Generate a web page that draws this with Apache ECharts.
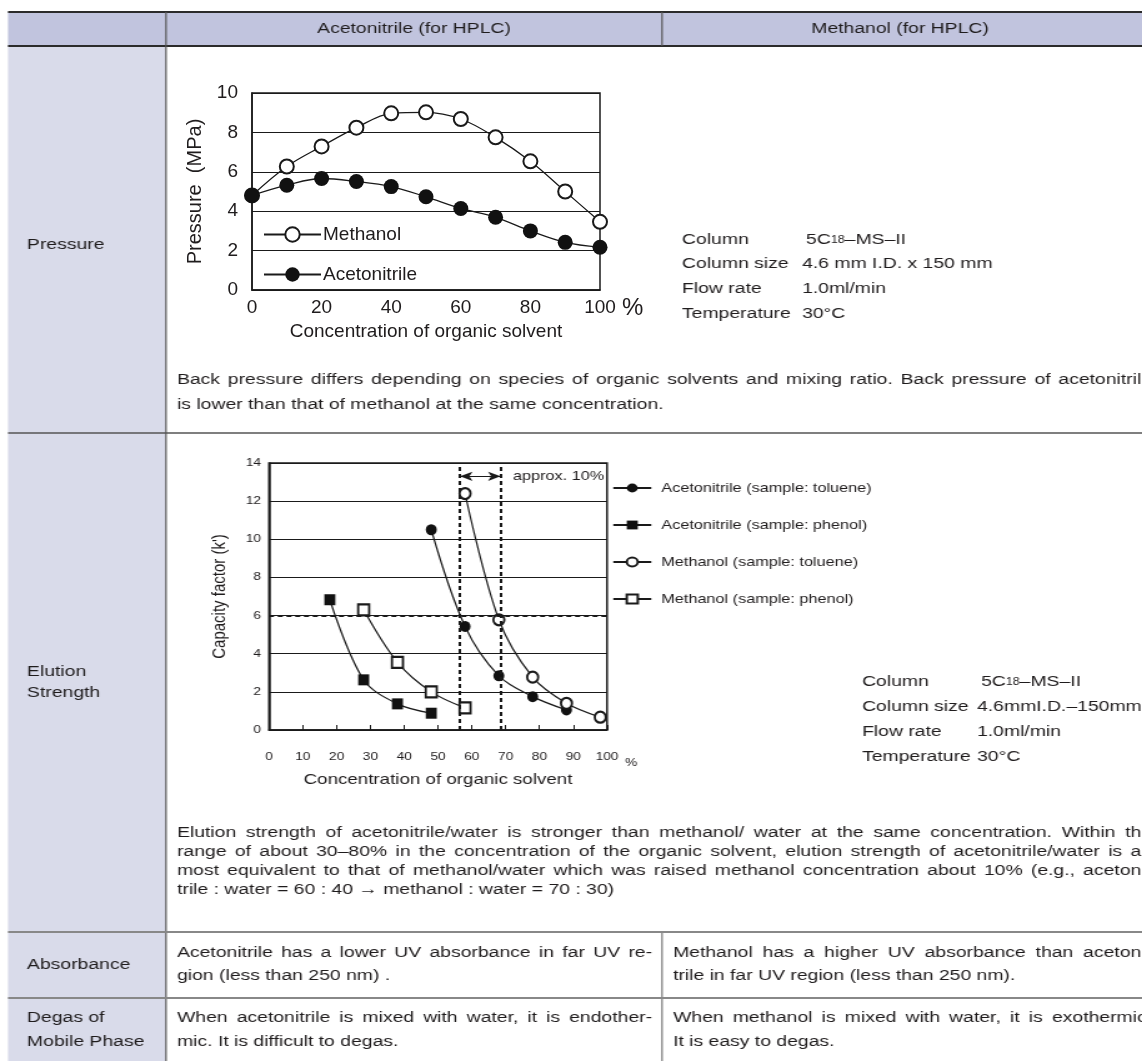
<!DOCTYPE html>
<html><head><meta charset="utf-8">
<script src="https://cdn.jsdelivr.net/npm/echarts@6/dist/echarts.min.js"></script>
<style>
html,body{margin:0;padding:0;background:#fff;overflow:hidden;width:1142px;height:1061px;position:relative}
#c{position:absolute;left:0;top:0;width:914px;height:1061px;transform:scaleX(1.2495);transform-origin:0 0}
#p{position:absolute;left:170px;top:60px;width:500px;height:300px}
</style>
</head><body><div id="c"></div><div id="p"></div>
<script>
// ---------- data ----------
const pressureX = [0, 10, 20, 30, 40, 50, 60, 70, 80, 90, 100];
const methanolP = [4.8, 6.27, 7.29, 8.24, 8.97, 9.02, 8.68, 7.75, 6.53, 5.0, 3.46];
const acetonitrileP = [4.8, 5.32, 5.66, 5.51, 5.25, 4.73, 4.14, 3.69, 3.0, 2.42, 2.17];

const acnTolX = [48, 58, 68, 78, 88];
const acnTolK = [10.5, 5.43, 2.84, 1.75, 1.05];
const acnPheX = [18, 28, 38, 48];
const acnPheK = [6.83, 2.63, 1.37, 0.88];
const meoTolX = [58, 68, 78, 88, 98];
const meoTolK = [12.4, 5.78, 2.77, 1.4, 0.67];
const meoPheX = [28, 38, 48, 58];
const meoPheK = [6.3, 3.55, 2.0, 1.16];

const dashX = [56.5, 68.5];
const dashY = 6;
const arrowY = 13.3;

const names1 = ['Methanol', 'Acetonitrile'];
const names2 = ['Acetonitrile (sample: toluene)', 'Acetonitrile (sample: phenol)',
                'Methanol (sample: toluene)', 'Methanol (sample: phenol)'];

// ---------- layout helpers ----------
const S = 1142 / 914;
const X = v => v / S;
const FF = 'Liberation Sans, Arial, sans-serif';
const INK = '#1f1c1d';
const BODY = 15.5;
const pair = (xs, ys) => xs.map((x, i) => [x, ys[i]]);
const mctx = document.createElement('canvas').getContext('2d');
function textW(t, size) { mctx.font = size + 'px ' + FF; return mctx.measureText(t).width; }

const graphics = [];
function rect(x1, y1, x2, y2, fill, z) {
  graphics.push({type: 'rect', z: z, silent: true,
    shape: {x: X(x1), y: y1, width: X(x2) - X(x1), height: y2 - y1}, style: {fill: fill}});
}
function line(x1, y1, x2, y2, color, w) {
  graphics.push({type: 'line', z: 50, silent: true,
    shape: {x1: X(x1), y1: y1, x2: X(x2), y2: y2}, style: {stroke: color, lineWidth: w}});
}
function textRaw(t, cx, y, size, extra) {
  graphics.push({type: 'text', z: 60, silent: true,
    style: Object.assign({text: t, x: cx, y: y, fill: INK, font: size + 'px ' + FF,
      verticalAlign: 'middle', align: 'left'}, extra || {})});
}
function text(t, x, y, size, extra) { textRaw(t, X(x), y, size, extra); }
function justify(t, x0, x1, y, size) {
  const words = t.split(' ');
  const ws = words.map(w => textW(w, size));
  const total = ws.reduce((a, b) => a + b, 0);
  const gap = (X(x1) - X(x0) - total) / (words.length - 1);
  let cx = X(x0);
  words.forEach((w, i) => { textRaw(w, cx, y, size); cx += ws[i] + gap; });
}

// table
rect(8, 12, 1142, 46, '#c1c4de', -5);
rect(8, 46, 166, 1061, '#d9dbea', -5);
line(8, 12, 1142, 12, '#2b2b2b', 2);
line(8, 46, 1142, 46, '#2b2b2b', 2);
line(166, 12, 166, 1061, '#555', 1.2);
line(662, 12, 662, 46, '#555', 1.2);
line(662, 932, 662, 1061, '#777', 1.2);
line(8, 433, 1142, 433, '#555', 1.5);
line(8, 932, 1142, 932, '#888', 2);
line(8, 998, 1142, 998, '#888', 2);

// header
text('Acetonitrile (for HPLC)', 414, 29, BODY, {align: 'center'});
text('Methanol (for HPLC)', 900, 29, BODY, {align: 'center'});

// row labels
text('Pressure', 27, 245, BODY);
text('Elution', 27, 672, BODY);
text('Strength', 27, 693, BODY);
text('Absorbance', 27, 965, BODY);
text('Degas of', 27, 1018, BODY);
text('Mobile Phase', 27, 1042, BODY);

// spec blocks
const specLabels = ['Column', 'Column size', 'Flow rate', 'Temperature'];
const spec1 = ['5C{s|18}\u2013MS\u2013II', '4.6 mm I.D. x 150 mm', '1.0ml/min', '30\u00B0C'];
const spec2 = ['5C{s|18}\u2013MS\u2013II', '4.6mmI.D.\u2013150mm', '1.0ml/min', '30\u00B0C'];
const spec1Y = [240, 264, 289, 314];
const spec2Y = [682, 707, 732, 757];
const richS = {rich: {s: {fontSize: 10, fill: INK, fontFamily: FF}}};
specLabels.forEach((l, i) => {
  text(l, 682, spec1Y[i], BODY);
  text(spec1[i], i === 0 ? 806 : 802, spec1Y[i], BODY, richS);
  text(l, 862, spec2Y[i], BODY);
  text(spec2[i], i === 0 ? 981 : 977, spec2Y[i], BODY, richS);
});

// paragraphs
const RIGHT = 1152, MID = 652;
justify('Back pressure differs depending on species of organic solvents and mixing ratio. Back pressure of acetonitrile', 177, RIGHT, 380, BODY);
text('is lower than that of methanol at the same concentration.', 177, 405, BODY);
const elu = [
  'Elution strength of acetonitrile/water is stronger than methanol/ water at the same concentration. Within the',
  'range of about 30\u201380% in the concentration of the organic solvent, elution strength of acetonitrile/water is al-',
  'most equivalent to that of methanol/water which was raised methanol concentration about 10% (e.g., acetoni-',
  'trile : water = 60 : 40 \u2192 methanol : water = 70 : 30)'
];
elu.forEach((t, i) => i < 3 ? justify(t, 177, RIGHT, 833 + i * 19, BODY) : text(t, 177, 833 + i * 19, BODY));
justify('Acetonitrile has a lower UV absorbance in far UV re-', 177, MID, 953, BODY);
text('gion (less than 250 nm) .', 177, 976, BODY);
justify('Methanol has a higher UV absorbance than acetoni-', 673, RIGHT, 953, BODY);
text('trile in far UV region (less than 250 nm).', 673, 976, BODY);
justify('When acetonitrile is mixed with water, it is endother-', 177, MID, 1018, BODY);
text('mic. It is difficult to degas.', 177, 1042, BODY);
justify('When methanol is mixed with water, it is exothermic.', 673, RIGHT, 1018, BODY);
text('It is easy to degas.', 673, 1042, BODY);

// % sign of chart 2
text('%', 625, 763, 11);

// ---------- main (stretched) chart: table + elution chart ----------
const axisLine = {show: true, lineStyle: {color: '#1a1a1a', width: 1.5}};
const blackLine = {color: '#1a1a1a', width: 1.2};

const option = {
  animation: false,
  backgroundColor: '#fff',
  textStyle: {fontFamily: FF, color: INK},
  graphic: graphics,
  grid: [
    {left: X(269), top: 463, width: X(607) - X(269), height: 267, show: true,
     borderColor: '#1a1a1a', borderWidth: 1.5, backgroundColor: 'transparent'}
  ],
  xAxis: [
    {type: 'value', min: 0, max: 100, interval: 10,
     axisLine: axisLine, axisTick: {show: true, inside: true, length: 5, lineStyle: {color: '#1a1a1a'}},
     splitLine: {show: false},
     axisLabel: {fontSize: 11, color: INK, margin: 21},
     name: 'Concentration of organic solvent', nameLocation: 'middle', nameGap: 42,
     nameTextStyle: {fontSize: 15, color: INK}}
  ],
  yAxis: [
    {type: 'value', min: 0, max: 14, interval: 2,
     axisLine: axisLine, axisTick: {show: false},
     splitLine: {show: true, lineStyle: blackLine},
     axisLabel: {fontSize: 11, color: INK, margin: X(8)},
     name: "Capacity factor (k')", nameLocation: 'middle', nameRotate: 90, nameGap: X(40),
     nameTextStyle: {fontSize: 15, color: INK}}
  ],
  legend: [
    {data: names2, orient: 'vertical', left: X(612), top: 481.5, padding: 0,
     itemWidth: X(38), itemHeight: 11, itemGap: 24, selectedMode: false,
     textStyle: {fontSize: 13, color: INK, fontFamily: FF, padding: [0, 0, 0, 3]}}
  ],
  series: [
    {name: names2[0], type: 'line', data: pair(acnTolX, acnTolK),
     smooth: 0.35, symbol: 'circle', symbolSize: [X(11), 11],
     lineStyle: {color: '#1a1a1a', width: 1.2}, itemStyle: {color: '#111'},
     markLine: {silent: true, symbol: 'none', animation: false,
       label: {show: false},
       data: [
         [{coord: [dashX[0], 0]}, {coord: [dashX[0], 14]}],
         [{coord: [dashX[1], 0]}, {coord: [dashX[1], 14]}],
         [{coord: [0, dashY]}, {coord: [100, dashY]}],
         [{coord: [dashX[0], arrowY], symbol: 'arrow', symbolSize: [7, 10],
           lineStyle: {type: 'solid', width: 1},
           label: {show: true, position: 'end', formatter: 'approx. 10%', fontSize: 13, color: INK,
                   fontFamily: FF, distance: 10}},
          {coord: [dashX[1], arrowY], symbol: 'arrow', symbolSize: [7, 10]}]
       ],
       lineStyle: {color: '#1a1a1a', type: [4, 3], width: 2}}},
    {name: names2[1], type: 'line', data: pair(acnPheX, acnPheK),
     smooth: 0.35, symbol: 'rect', symbolSize: [X(11), 11],
     lineStyle: {color: '#1a1a1a', width: 1.2}, itemStyle: {color: '#111'}},
    {name: names2[2], type: 'line', data: pair(meoTolX, meoTolK),
     smooth: 0.35, symbol: 'emptyCircle', symbolSize: [X(11), 11],
     lineStyle: {color: '#1a1a1a', width: 1.2}, itemStyle: {color: '#1a1a1a', borderWidth: 1.2}},
    {name: names2[3], type: 'line', data: pair(meoPheX, meoPheK),
     smooth: 0.35, symbol: 'emptyRect', symbolSize: [X(11), 11],
     lineStyle: {color: '#1a1a1a', width: 1.2}, itemStyle: {color: '#1a1a1a', borderWidth: 1.2}}
  ]
};
const chart = echarts.init(document.getElementById('c'), null, {renderer: 'canvas', width: 914, height: 1061});
chart.setOption(option);

// ---------- pressure chart (unstretched overlay) ----------
const OX = 170, OY = 60;
const option2 = {
  animation: false,
  backgroundColor: 'transparent',
  textStyle: {fontFamily: FF, color: INK},
  graphic: [{type: 'text', silent: true,
    style: {text: '%', x: 622 - OX, y: 308 - OY, font: '24px ' + FF, fill: INK, verticalAlign: 'middle'}}],
  grid: {left: 252 - OX, top: 93 - OY, width: 348, height: 197, show: true,
         borderColor: '#1a1a1a', borderWidth: 1.5, backgroundColor: 'transparent'},
  xAxis: {type: 'value', min: 0, max: 100, interval: 20,
    axisLine: axisLine, axisTick: {show: false}, splitLine: {show: false},
    axisLabel: {fontSize: 19, color: INK, margin: 8},
    name: 'Concentration of organic solvent', nameLocation: 'middle', nameGap: 31,
    nameTextStyle: {fontSize: 19, color: INK}},
  yAxis: {type: 'value', min: 0, max: 10, interval: 2,
    axisLine: axisLine, axisTick: {show: false},
    splitLine: {show: true, lineStyle: blackLine},
    axisLabel: {fontSize: 19, color: INK, margin: 14},
    name: 'Pressure  (MPa)', nameLocation: 'middle', nameRotate: 90, nameGap: 47,
    nameTextStyle: {fontSize: 20, color: INK}},
  legend: {data: names1, orient: 'vertical', left: 263 - OX, top: 225 - OY, padding: 0,
    itemWidth: 57, itemHeight: 18, itemGap: 21, selectedMode: false,
    textStyle: {fontSize: 19, color: INK, fontFamily: FF, padding: [0, 0, 0, -3]}},
  series: [
    {name: names1[0], type: 'line', data: pair(pressureX, methanolP),
     smooth: 0.35, symbol: 'emptyCircle', symbolSize: 14,
     lineStyle: {color: '#1a1a1a', width: 1.3}, itemStyle: {color: '#1a1a1a', borderWidth: 1.3}},
    {name: names1[1], type: 'line', data: pair(pressureX, acetonitrileP),
     smooth: 0.35, symbol: 'circle', symbolSize: 15,
     lineStyle: {color: '#1a1a1a', width: 1.3}, itemStyle: {color: '#111'}}
  ]
};
const chart2 = echarts.init(document.getElementById('p'), null, {renderer: 'canvas', width: 500, height: 300});
chart2.setOption(option2);
</script>
</body></html>
